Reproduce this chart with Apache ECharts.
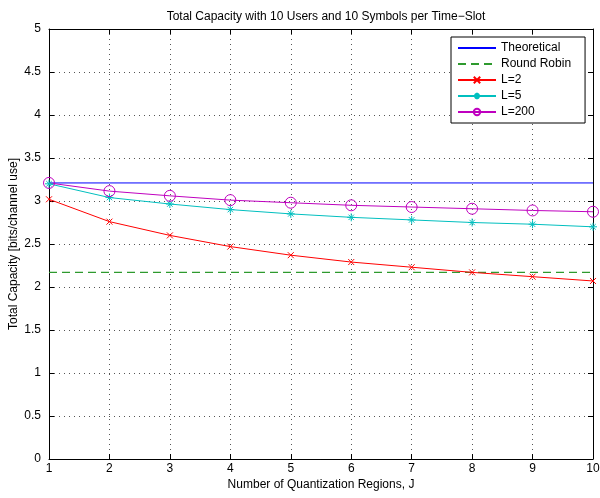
<!DOCTYPE html>
<html>
<head>
<meta charset="utf-8">
<script src="https://cdn.jsdelivr.net/npm/echarts@6/dist/echarts.min.js"></script>
<style>
  html, body { margin: 0; padding: 0; background: #fff; }
  #chart { width: 600px; height: 498px; }
</style>
</head>
<body>
<div id="chart"></div>
<script>
// regions J = 1..10
const regions = [1, 2, 3, 4, 5, 6, 7, 8, 9, 10]
const theoretical = 3.21
const roundRobin = 2.17
const capL2 = [3.02, 2.76, 2.60, 2.47, 2.37, 2.29, 2.23, 2.17, 2.12, 2.07]
const capL5 = [3.20, 3.04, 2.965, 2.90, 2.85, 2.81, 2.78, 2.75, 2.73, 2.70]
const capL200 = [3.21, 3.115, 3.06, 3.01, 2.98, 2.95, 2.93, 2.91, 2.89, 2.875]

const font = 'Liberation Sans, Arial, sans-serif'
const crossSym = 'path://M0,0L10,10M10,0L0,10'
const starSym = 'path://M5,0L5,10M0,5L10,5M1.6,1.6L8.4,8.4M8.4,1.6L1.6,8.4'
const ringSym = 'path://M10,5A5,5 0 1,1 0,5A5,5 0 1,1 10,5Z'

function pairs(vals) {
  return regions.map((x, i) => [x, vals[i]])
}

const chart = echarts.init(document.getElementById('chart'))

const tickIn = { show: true, inside: true, length: 5, lineStyle: { color: '#000' } }
const axisLine = { show: true, onZero: false, lineStyle: { color: '#000', width: 1 } }
const gridDots = { show: true, lineStyle: { color: '#555', type: [1, 4], width: 1 } }

chart.setOption({
  animation: false,
  title: {
    text: 'Total Capacity with 10 Users and 10 Symbols per Time\u2212Slot',
    left: 321, top: 6, textAlign: 'center',
    textStyle: { fontFamily: font, fontSize: 12, fontWeight: 'normal', color: '#000' }
  },
  grid: { left: 49, right: 7, top: 29, bottom: 39, containLabel: false, outerBoundsMode: 'none' },
  legend: {
    orient: 'vertical',
    left: 451, top: 37,
    padding: [5, 14, 5, 6],
    itemWidth: 38, itemHeight: 8, itemGap: 4,
    backgroundColor: '#fff',
    borderColor: '#000', borderWidth: 1, borderRadius: 0,
    textStyle: { fontFamily: font, fontSize: 12, color: '#000' },
    data: [
      { name: 'Theoretical', itemStyle: { opacity: 0 } },
      { name: 'Round Robin', itemStyle: { opacity: 0 } },
      'L=2', 'L=5', 'L=200'
    ]
  },
  xAxis: [{
    type: 'value', min: 1, max: 10, interval: 1,
    name: 'Number of Quantization Regions, J',
    nameLocation: 'middle', nameGap: 20, nameMoveOverlap: false,
    nameTextStyle: { fontFamily: font, fontSize: 12, color: '#000' },
    axisLine: axisLine, axisTick: tickIn,
    axisLabel: { fontFamily: font, fontSize: 12, color: '#000', margin: 4 },
    splitLine: gridDots
  }, {
    type: 'value', min: 1, max: 10, interval: 1, position: 'top',
    axisLine: axisLine, axisTick: tickIn, axisLabel: { show: false }, splitLine: { show: false }
  }],
  yAxis: [{
    type: 'value', min: 0, max: 5, interval: 0.5,
    name: 'Total Capacity [bits/channel use]',
    nameLocation: 'middle', nameGap: 29, nameMoveOverlap: false,
    nameTextStyle: { fontFamily: font, fontSize: 12, color: '#000' },
    axisLine: axisLine, axisTick: tickIn,
    axisLabel: { fontFamily: font, fontSize: 12, color: '#000', margin: 8 },
    splitLine: gridDots
  }, {
    type: 'value', min: 0, max: 5, interval: 0.5, position: 'right',
    axisLine: axisLine, axisTick: tickIn, axisLabel: { show: false }, splitLine: { show: false }
  }],
  series: [{
    name: 'Theoretical', type: 'line',
    data: pairs(regions.map(() => theoretical)),
    symbol: 'none', itemStyle: { color: '#0000ff' },
    lineStyle: { color: '#0000ff', width: 1 }
  }, {
    name: 'Round Robin', type: 'line',
    data: pairs(regions.map(() => roundRobin)),
    symbol: 'none', itemStyle: { color: '#2e9a2e' },
    lineStyle: { color: '#2e9a2e', width: 1.3, type: [8, 5] }
  }, {
    name: 'L=2', type: 'line', data: pairs(capL2),
    symbol: crossSym, symbolSize: 6,
    itemStyle: { color: 'none', borderColor: '#ff0000', borderWidth: 1 },
    lineStyle: { color: '#ff0000', width: 1 }
  }, {
    name: 'L=5', type: 'line', data: pairs(capL5),
    symbol: starSym, symbolSize: 8,
    itemStyle: { color: 'none', borderColor: '#00bfbf', borderWidth: 1 },
    lineStyle: { color: '#00bfbf', width: 1 }
  }, {
    name: 'L=200', type: 'line', data: pairs(capL200),
    symbol: ringSym, symbolSize: 11,
    itemStyle: { color: 'none', borderColor: '#bf00bf', borderWidth: 1 },
    lineStyle: { color: '#bf00bf', width: 1 }
  }]
})
</script>
</body>
</html>
